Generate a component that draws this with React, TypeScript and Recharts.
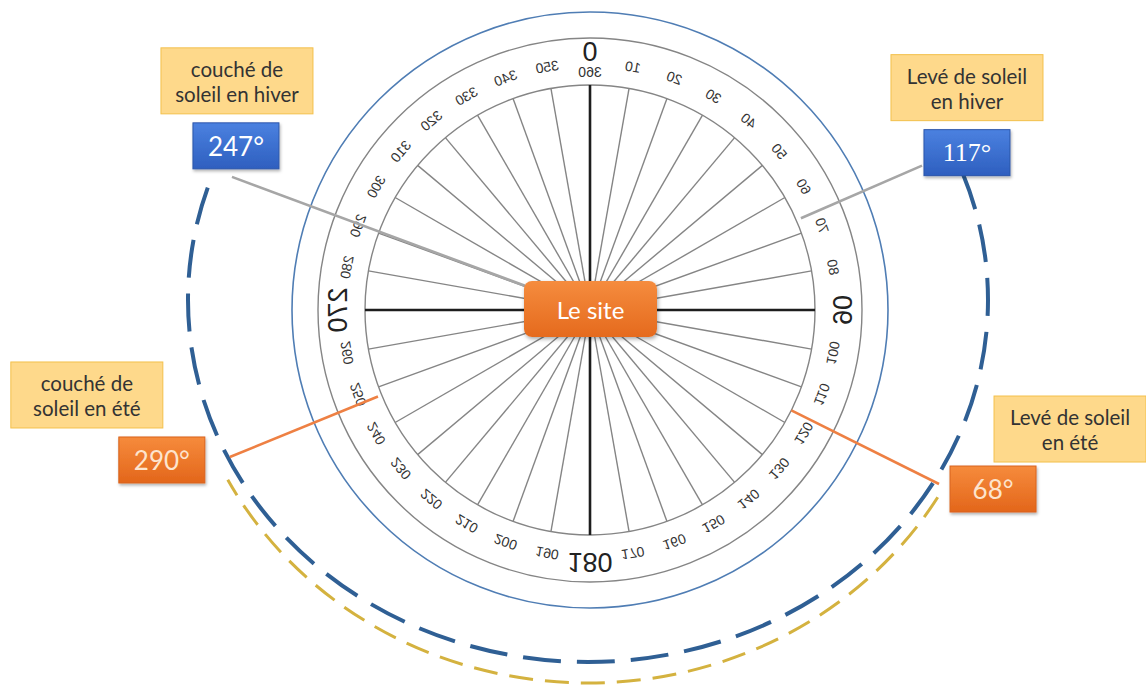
import React from 'react';
import { RadarChart, PolarGrid, PolarAngleAxis, PieChart, Pie } from 'recharts';

const W = 1146;
const H = 689;
const CX = 590;
const CY = 310;
const SPOKE_R = 225;
const RING_R = 272;
const RIM_R = 298;
const RAD = Math.PI / 180;

// dial graduations (degrees, clockwise from the top)
const DIAL_DEGREES = [
  0, 10, 20, 30, 40, 50, 60, 70, 80, 90, 100, 110,
  120, 130, 140, 150, 160, 170, 180, 190, 200, 210, 220, 230,
  240, 250, 260, 270, 280, 290, 300, 310, 320, 330, 340, 350,
];
const MAJOR_DEGREES = [0, 90, 180, 270];

// sun rise / set directions
const SUN_CAPTIONS = [
  ['Levé de soleil', 'en hiver'],
  ['couché de', 'soleil en hiver'],
  ['Levé de soleil', 'en été'],
  ['couché de', 'soleil en été'],
];
const SUN_VALUES = ['117°', '247°', '68°', '290°'];
const SUN_SEASON = ['hiver', 'hiver', 'été', 'été'];
// where each ray sits on the (mirrored) dial
const SUN_DIAL = [66.5, 290.4, 116.5, 247.8];

// dashed season arcs (dial degrees)
const ARC_SEASONS = ['hiver', 'été'];
const ARC_FROM = [69.5, 121];
const ARC_TO = [290.5, 242];

// layout
const RAY_RADII = [[230, 362], [0, 382], [225, 390], [229, 389]];
const VALUE_BOX_OFFSET = [[45, -13], [4, -31], [54, 5], [-68, 3]];
const CAPTION_BOX_OFFSET = [[45, -78], [5, -96], [131, -55], [-143, -62]];
const VALUE_FONTS = ['"Liberation Serif", serif', 'Lato, sans-serif', 'Lato, sans-serif', 'Lato, sans-serif'];
const ARC_CX = 588;
const ARC_CY = 300;
const ARC_RADII = [[400, 362], [408, 383]];

const STYLE: Record<string, any> = {
  hiver: {
    ray: '#a6a6a6', box: ['#4b81e0', '#2e5fbf'], boxStroke: '#2b56aa', text: '#ffffff',
    arc: '#2f5f94', arcWidth: 4, dash: '38 16',
  },
  'été': {
    ray: '#ee8043', box: ['#f68b3c', '#e3661b'], boxStroke: '#d9631d', text: '#fde4cd',
    arc: '#d4b23f', arcWidth: 3, dash: '24 12',
  },
};

const dialData = DIAL_DEGREES.map((deg) => ({ deg }));

const polar = (cx: number, cy: number, r: number, angle: number) => ({
  x: cx + r * Math.cos(-angle * RAD),
  y: cy + r * Math.sin(-angle * RAD),
});

const DialTick = (props: any) => {
  const { x, y, payload } = props;
  const deg = Number(payload.value);
  const big = MAJOR_DEGREES.includes(deg);
  const push = deg === 0 ? 11 : big ? 5 : 0;
  const s = Math.sin(deg * RAD);
  const c = Math.cos(deg * RAD);
  const tx = x + s * push;
  const ty = y - c * push;
  const common = {
    textAnchor: 'middle' as const,
    dominantBaseline: 'central' as const,
    fontFamily: '"Liberation Sans", Arial, sans-serif',
    fill: big ? '#222' : '#333',
  };
  return (
    <g>
      <text {...common} fontSize={big ? 27 : 14} transform={`translate(${tx},${ty}) rotate(${deg}) scale(-1,1)`}>
        {deg}
      </text>
      {deg === 0 && (
        <text {...common} fill="#333" fontSize={14} transform={`translate(${x},${y + 9}) scale(-1,1)`}>
          360
        </text>
      )}
    </g>
  );
};

const arcShape = (i: number) => (p: any) => {
  const st = STYLE[ARC_SEASONS[i]];
  const rx = p.outerRadius;
  const ry = ARC_RADII[i][1];
  const pt = (a: number) => ({ x: p.cx + rx * Math.cos(a * RAD), y: p.cy - ry * Math.sin(a * RAD) });
  const s = pt(p.startAngle);
  const e = pt(p.endAngle);
  const large = Math.abs(p.startAngle - p.endAngle) > 180 ? 1 : 0;
  const sweep = p.startAngle > p.endAngle ? 1 : 0;
  return (
    <path
      d={`M${s.x},${s.y} A${rx},${ry} 0 ${large} ${sweep} ${e.x},${e.y}`}
      fill="none"
      stroke={st.arc}
      strokeWidth={st.arcWidth}
      strokeDasharray={st.dash}
    />
  );
};

const rayShape = (i: number) => (p: any) => {
  const st = STYLE[SUN_SEASON[i]];
  const a = polar(p.cx, p.cy, p.innerRadius, p.startAngle);
  const b = polar(p.cx, p.cy, p.outerRadius, p.startAngle);
  const vx = b.x + VALUE_BOX_OFFSET[i][0];
  const vy = b.y + VALUE_BOX_OFFSET[i][1];
  const kx = b.x + CAPTION_BOX_OFFSET[i][0];
  const ky = b.y + CAPTION_BOX_OFFSET[i][1];
  return (
    <g>
      <defs>
        <linearGradient id={`vb${i}`} x1="0" y1="0" x2="0" y2="1">
          <stop offset="0" stopColor={st.box[0]} />
          <stop offset="1" stopColor={st.box[1]} />
        </linearGradient>
        <filter id={`sh${i}`} x="-20%" y="-20%" width="140%" height="160%">
          <feDropShadow dx="1" dy="2" stdDeviation="1.5" floodColor="#000" floodOpacity="0.3" />
        </filter>
      </defs>
      <line x1={a.x} y1={a.y} x2={b.x} y2={b.y} stroke={st.ray} strokeWidth={2.6} />
      <rect x={kx - 76} y={ky - 33} width={152} height={66} fill="#fed98b" stroke="#f3c04b" strokeWidth={1} />
      <text x={kx} y={ky - 12} textAnchor="middle" dominantBaseline="central" fontSize={20.5} fill="#333" fontFamily="Lato, sans-serif">
        {SUN_CAPTIONS[i][0]}
      </text>
      <text x={kx} y={ky + 13} textAnchor="middle" dominantBaseline="central" fontSize={20.5} fill="#333" fontFamily="Lato, sans-serif">
        {SUN_CAPTIONS[i][1]}
      </text>
      <rect x={vx - 43} y={vy - 23} width={86} height={46} fill={`url(#vb${i})`} stroke={st.boxStroke} strokeWidth={1} filter={`url(#sh${i})`} />
      <text x={vx} y={vy} textAnchor="middle" dominantBaseline="central" fontSize={26} fill={st.text} fontFamily={VALUE_FONTS[i]}>
        {SUN_VALUES[i]}
      </text>
    </g>
  );
};

const layer: React.CSSProperties = { position: 'absolute', left: 0, top: 0 };

export default function App() {
  return (
    <div style={{ position: 'absolute', left: 0, top: 0, width: W, height: H, background: '#fff', overflow: 'hidden' }}>
      <div style={layer}>
        <RadarChart
          width={W}
          height={H}
          cx={CX}
          cy={CY}
          outerRadius={SPOKE_R}
          startAngle={90}
          endAngle={-270}
          data={dialData}
          margin={{ top: 0, right: 0, bottom: 0, left: 0 }}
        >
          <PolarGrid gridType="circle" polarRadius={[SPOKE_R, RING_R]} stroke="#858585" strokeWidth={1.4} />
          <PolarGrid gridType="circle" polarAngles={[90, 0, -90, -180]} polarRadius={[]} stroke="#1d1d1d" strokeWidth={2.6} />
          <PolarGrid gridType="circle" polarAngles={[]} polarRadius={[RIM_R]} stroke="#4f7db4" strokeWidth={1.6} />
          <PolarAngleAxis dataKey="deg" tick={<DialTick />} tickLine={false} axisLine={false} tickSize={22} />
        </RadarChart>
      </div>
      <div style={layer}>
        <PieChart width={W} height={H} margin={{ top: 0, right: 0, bottom: 0, left: 0 }}>
          {ARC_SEASONS.map((s, i) => (
            <Pie
              key={`arc-${s}`}
              data={[{ name: s, value: 1 }]}
              dataKey="value"
              cx={ARC_CX}
              cy={ARC_CY}
              innerRadius={0}
              outerRadius={ARC_RADII[i][0]}
              startAngle={90 - ARC_FROM[i]}
              endAngle={90 - ARC_TO[i]}
              stroke="none"
              isAnimationActive={false}
              shape={arcShape(i)}
              activeShape={arcShape(i)}
              inactiveShape={arcShape(i)}
            />
          ))}
          {SUN_DIAL.map((pos, i) => (
            <Pie
              key={`ray-${i}`}
              data={[{ name: SUN_VALUES[i], value: 1 }]}
              dataKey="value"
              cx={CX}
              cy={CY}
              innerRadius={RAY_RADII[i][0]}
              outerRadius={RAY_RADII[i][1]}
              startAngle={90 - pos}
              endAngle={90 - pos - 0.5}
              stroke="none"
              isAnimationActive={false}
              shape={rayShape(i)}
              activeShape={rayShape(i)}
              inactiveShape={rayShape(i)}
            />
          ))}
        </PieChart>
      </div>
      <div
        style={{
          position: 'absolute',
          left: CX - 66,
          top: CY - 29,
          width: 133,
          height: 56,
          borderRadius: 8,
          background: 'linear-gradient(#f58c3e, #e56a1d)',
          boxShadow: '1px 2px 4px rgba(0,0,0,0.35)',
          color: '#fff',
          fontFamily: 'Lato, sans-serif',
          fontSize: 24,
          display: 'flex',
          alignItems: 'center',
          justifyContent: 'center',
        }}
      >
        Le site
      </div>
    </div>
  );
}
